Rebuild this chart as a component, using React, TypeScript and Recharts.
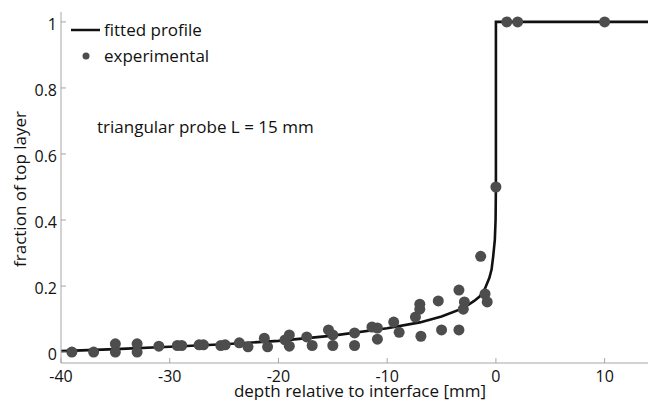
import { ComposedChart, Line, Scatter, XAxis, YAxis, Legend, Label } from 'recharts';

// experimental points
const expDepth = [
    -39, -37, -35, -35, -33, -33, -31, -29.3, -28.9, -27.3, -26.9, -25.3, -24.9, -23.6, -22.8,
    -21.3, -21.0, -19.4, -19.0, -19.0, -17.4, -16.9, -15.4, -15.0, -15.0, -13.0, -13.0,
    -11.4, -10.9, -10.9, -9.4, -8.9, -7.4, -7.0, -7.0, -6.9, -5.3, -5.0, -3.4, -2.9, -3.0, -3.4,
    -1.4, -1.0, -0.8, 0, 1, 2, 10, 14.8,
];
const expFraction = [
    0.0, 0.0, 0.025, 0.0, 0.025, 0.0, 0.018, 0.02, 0.02, 0.022, 0.022, 0.02, 0.022, 0.028, 0.016,
    0.042, 0.016, 0.037, 0.052, 0.018, 0.046, 0.02, 0.067, 0.052, 0.02, 0.058, 0.02,
    0.076, 0.073, 0.039, 0.091, 0.06, 0.106, 0.145, 0.13, 0.048, 0.155, 0.067, 0.188, 0.152, 0.13, 0.067,
    0.29, 0.176, 0.152, 0.5, 1, 1, 1, 1,
];

// fitted profile, sampled from the drawn curve
const fitDepth = [-40, -35, -30, -25, -20, -15, -10, -7, -5, -3, -2, -1.5, -1, -0.6, -0.4, -0.25, -0.1, -0.03, 0, 0, 15];
const fitFraction = [0.003, 0.009, 0.016, 0.024, 0.034, 0.05, 0.072, 0.09, 0.108, 0.133, 0.155, 0.168, 0.193, 0.225, 0.25, 0.29, 0.34, 0.4, 0.5, 1, 1];

const xTicks = [-40, -30, -20, -10, 0, 10];
const yTicks = [0, 0.2, 0.4, 0.6, 0.8, 1];

const expData = expDepth.map((x, i) => ({ x, y: expFraction[i] }));
const fitData = fitDepth.map((x, i) => ({ x, y: fitFraction[i] }));

const FONT = '"Open Sans", sans-serif';
const AXIS = '#a6a6a6';
const DOT = '#4d4d4d';

const Dot = (props: any) => <circle cx={props.cx} cy={props.cy} r={5.5} fill={DOT} />;

const LegendBox = () => (
    <div style={{ fontFamily: FONT, fontSize: 17, color: '#111', lineHeight: '26px' }}>
        <div style={{ display: 'flex', alignItems: 'center' }}>
            <svg width={37} height={26}>
                <line x1={4} y1={13} x2={33} y2={13} stroke="#111" strokeWidth={2.5} />
            </svg>
            <span>fitted profile</span>
        </div>
        <div style={{ display: 'flex', alignItems: 'center' }}>
            <svg width={37} height={26}>
                <circle cx={19} cy={13} r={3.5} fill={DOT} />
            </svg>
            <span>experimental</span>
        </div>
    </div>
);

export default function App() {
    return (
        <div style={{ position: 'relative', margin: -8, width: 656, height: 408, overflow: 'hidden', background: '#fff' }}>
            <ComposedChart width={660} height={408} margin={{ top: 12, right: 1, left: 0, bottom: 0 }}>
                <XAxis
                    xAxisId="top"
                    orientation="top"
                    type="number"
                    dataKey="x"
                    domain={[-40, 15]}
                    ticks={xTicks}
                    height={0}
                    tick={false}
                    tickSize={-5}
                    stroke={AXIS}
                    allowDataOverflow
                />
                <XAxis
                    type="number"
                    dataKey="x"
                    domain={[-40, 15]}
                    ticks={xTicks}
                    height={45}
                    tickSize={-5}
                    tickMargin={13}
                    stroke={AXIS}
                    tick={{ fill: '#111', fontSize: 16, fontFamily: FONT }}
                    allowDataOverflow
                >
                    <Label value="depth relative to interface [mm]" position="insideBottom" offset={11}
                        style={{ fill: '#111', fontSize: 17, fontFamily: FONT }} />
                </XAxis>
                <YAxis
                    type="number"
                    dataKey="y"
                    domain={[-0.033, 1.03]}
                    ticks={yTicks}
                    width={61}
                    tickSize={-5}
                    tickMargin={9}
                    stroke={AXIS}
                    tick={{ fill: '#111', fontSize: 16, fontFamily: FONT, dy: 2 }}
                    allowDataOverflow
                />
                <Legend
                    layout="horizontal"
                    verticalAlign="middle"
                    align="center"
                    wrapperStyle={{ top: 17, left: 67, width: 'auto' }}
                    content={() => <LegendBox />}
                />
                <Scatter data={expData} dataKey="y" shape={Dot} isAnimationActive={false} />
                <Line data={fitData} dataKey="y" type="linear" stroke="#111" strokeWidth={2.6} dot={false} activeDot={false} isAnimationActive={false} />
            </ComposedChart>
            <div style={{ position: 'absolute', left: 97, top: 115, fontFamily: FONT, fontSize: 17, color: '#111' }}>
                triangular probe L = 15 mm
            </div>
            <div style={{
                position: 'absolute', left: 19, top: 189, fontFamily: FONT, fontSize: 17, color: '#111',
                transform: 'translate(-50%, -50%) rotate(-90deg)', whiteSpace: 'nowrap',
            }}>
                fraction of top layer
            </div>
        </div>
    );
}
